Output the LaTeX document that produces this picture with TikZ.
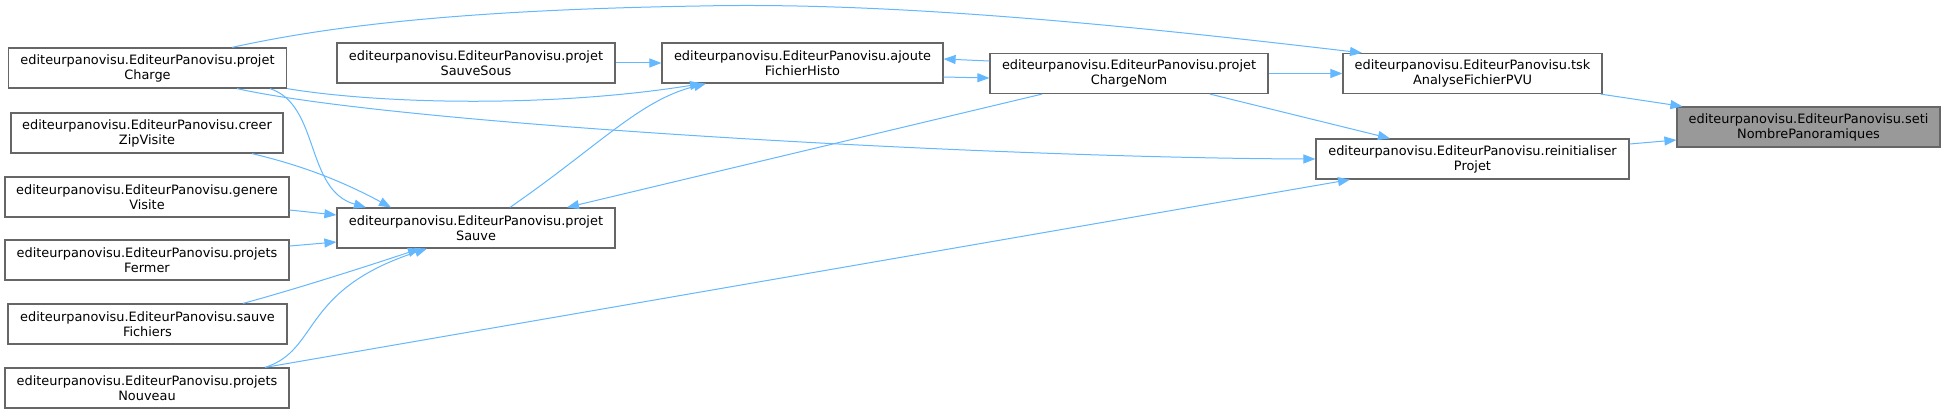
\documentclass[tikz,border=0pt]{standalone}
\usepackage{fontspec}
\setmainfont{DejaVu Sans}
\usetikzlibrary{arrows.meta}
\definecolor{edgecol}{HTML}{63B8FF}
\definecolor{boxborder}{HTML}{666666}
\definecolor{rootfill}{HTML}{999999}
\begin{document}
\begin{tikzpicture}[x=1pt,y=-1pt,
  box/.style={draw=boxborder, line width=1.2pt, fill=white, rectangle, minimum height=40pt,
    inner sep=2pt, align=center, font=\fontsize{12.9}{15}\selectfont, text=black},
  root/.style={box, fill=rootfill},
  edge/.style={draw=edgecol, line width=1pt, -{Triangle[length=12pt,width=9pt]}}]
\useasboundingbox (0,0) rectangle (1945,414);
\fill[white] (0,0) rectangle (1945,414);

% nodes
\node[box, minimum width=278pt] (charge) at (147.5,68) {editeurpanovisu.EditeurPanovisu.projet\\Charge};
\node[box, minimum width=272pt] (zip) at (147,133) {editeurpanovisu.EditeurPanovisu.creer\\ZipVisite};
\node[box, minimum width=284pt] (genere) at (147,197) {editeurpanovisu.EditeurPanovisu.genere\\Visite};
\node[box, minimum width=284pt] (fermer) at (147,260) {editeurpanovisu.EditeurPanovisu.projets\\Fermer};
\node[box, minimum width=279pt] (sauvef) at (147.5,324) {editeurpanovisu.EditeurPanovisu.sauve\\Fichiers};
\node[box, minimum width=284pt] (nouveau) at (147,388) {editeurpanovisu.EditeurPanovisu.projets\\Nouveau};
\node[box, minimum width=278pt] (sauvesous) at (476,63) {editeurpanovisu.EditeurPanovisu.projet\\SauveSous};
\node[box, minimum width=278pt] (sauve) at (476,228) {editeurpanovisu.EditeurPanovisu.projet\\Sauve};
\node[box, minimum width=281pt] (ajoute) at (802.5,63) {editeurpanovisu.EditeurPanovisu.ajoute\\FichierHisto};
\node[box, minimum width=278pt] (chargenom) at (1129,73.5) {editeurpanovisu.EditeurPanovisu.projet\\ChargeNom};
\node[box, minimum width=259pt] (tsk) at (1472.5,73.5) {editeurpanovisu.EditeurPanovisu.tsk\\AnalyseFichierPVU};
\node[box, minimum width=313pt] (reinit) at (1472.5,159) {editeurpanovisu.EditeurPanovisu.reinitialiser\\Projet};
\node[root, minimum width=263pt] (seti) at (1808.5,127) {editeurpanovisu.EditeurPanovisu.seti\\NombrePanoramiques};

% edges
\draw[edge] ([xshift=-2pt]tsk.south east) -- ([xshift=6pt]seti.north west);
\draw[edge] ([yshift=15pt]reinit.east) -- ([yshift=-13pt]seti.west);
\draw[edge] (chargenom.east) -- (tsk.west);
\draw[edge] ([xshift=84.5pt]charge.north) .. controls (320,28) and (450,10) .. (700,6)
  .. controls (880,2) and (1100,22) .. ([xshift=-110.5pt]tsk.north);
\draw[edge] ([xshift=81pt]chargenom.south) -- ([xshift=-82.5pt]reinit.north);
\draw[edge] ([xshift=89.5pt]charge.south) .. controls (400,125) and (1000,158) .. (reinit.west);
\draw[edge] ([xshift=118pt]nouveau.north) -- ([xshift=-122.5pt]reinit.south);
\draw[edge] (sauvesous.east) -- (ajoute.west);
\draw[edge] (charge.south east) .. controls (380,104) and (550,108) .. ([xshift=-100.5pt]ajoute.south);
\draw[edge] ([xshift=34pt]sauve.north) .. controls (600,145) and (640,100) .. ([xshift=-96.5pt]ajoute.south);
\draw[edge] ([xshift=-87pt]chargenom.south) -- ([xshift=91pt]sauve.north);
\draw[edge] ([xshift=122.5pt]charge.south) .. controls (320,105) and (305,190) .. ([xshift=-110pt]sauve.north);
\draw[edge] ([xshift=105pt]zip.south) .. controls (300,165) and (340,180) .. ([xshift=-85pt]sauve.north);
\draw[edge] ([yshift=-13pt]genere.east) -- ([yshift=13pt]sauve.west);
\draw[edge] ([yshift=14pt]fermer.east) -- ([yshift=-14pt]sauve.west);
\draw[edge] ([xshift=95.5pt]sauvef.north) .. controls (300,288) and (380,262) .. ([xshift=-56pt]sauve.south);
\draw[edge] ([xshift=118pt]nouveau.north) .. controls (320,350) and (300,290) .. ([xshift=-49pt]sauve.south);
\draw[edge] ([yshift=-14pt]ajoute.east) -- ([yshift=-4.5pt]chargenom.west);
\draw[edge] ([yshift=12.5pt]chargenom.west) -- ([yshift=4pt]ajoute.east);
\end{tikzpicture}
\end{document}
